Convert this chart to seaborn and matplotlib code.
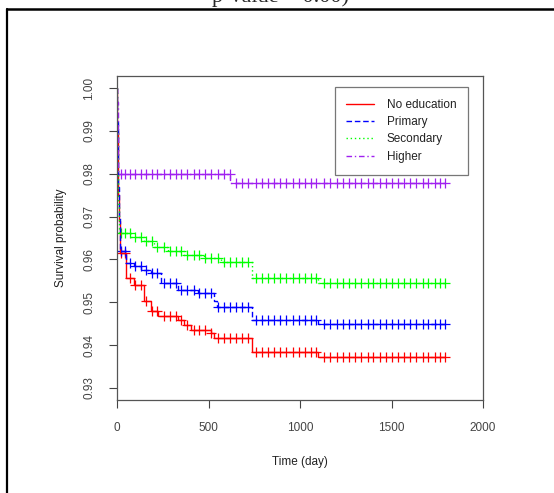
import numpy as np
import pandas as pd
import seaborn as sns
import matplotlib.pyplot as plt
from matplotlib.lines import Line2D

# Kaplan-Meier steps (time in days, survival after the step)
noedu_t = [0, 2, 4, 7, 10, 14, 49, 93, 147, 185, 223, 332, 365, 403, 512, 530, 735, 1100, 1790]
noedu_s = [1.0, 0.990, 0.982, 0.975, 0.969, 0.9615, 0.9556, 0.9541, 0.9502, 0.9479, 0.9467,
           0.9459, 0.9448, 0.9436, 0.9428, 0.9417, 0.9385, 0.9373, 0.9373]

primary_t = [0, 2, 4, 7, 10, 14, 49, 93, 131, 185, 240, 331, 440, 530, 549, 735, 1100, 1790]
primary_s = [1.0, 0.992, 0.985, 0.977, 0.970, 0.9619, 0.9591, 0.9584, 0.9576, 0.9568, 0.9545,
             0.9529, 0.9521, 0.9502, 0.9490, 0.9459, 0.9449, 0.9449]

secondary_t = [0, 2, 5, 8, 12, 76, 147, 202, 278, 365, 474, 567, 735, 1100, 1790]
secondary_s = [1.0, 0.990, 0.981, 0.973, 0.9662, 0.9653, 0.9642, 0.9630, 0.9619, 0.9611,
               0.9603, 0.9593, 0.9556, 0.9545, 0.9545]

higher_t = [0, 1, 4, 8, 620, 1790]
higher_s = [1.0, 0.9968, 0.988, 0.9800, 0.9778, 0.9778]

# censoring times (the "+" marks)
censor_t = [20, 45, 70, 100, 130, 160, 190, 220, 255, 290, 320, 350, 385, 420, 450, 480,
            515, 550, 585, 615, 650, 685, 715, 760, 790, 825, 860, 890, 925, 960, 995,
            1030, 1060, 1090, 1130, 1165, 1200, 1235, 1270, 1300, 1335, 1370, 1400, 1435,
            1470, 1500, 1535, 1570, 1600, 1635, 1670, 1700, 1735, 1765, 1790]

groups = ["No education", "Primary", "Secondary", "Higher"]
times = [noedu_t, primary_t, secondary_t, higher_t]
survs = [noedu_s, primary_s, secondary_s, higher_s]
colors = ["#FF0000", "#0000FF", "#00FF00", "#A020F0"]
styles = ["-", (0, (4, 2)), (0, (1, 2)), (0, (4, 2, 1, 2))]

sns.set_style("ticks")
plt.rcParams['font.family'] = ['Liberation Sans', 'DejaVu Sans']

fig = plt.figure(figsize=(5.54, 4.93), dpi=100)
ax = fig.add_axes([117 / 554, 1 - 400 / 493, 366 / 554, 324 / 493])

for g, t, s, c, ls in zip(groups, times, survs, colors, styles):
    df = pd.DataFrame({"time": t, "surv": s})
    sns.lineplot(data=df, x="time", y="surv", ax=ax, color=c, linestyle=ls,
                 drawstyle="steps-post", estimator=None, lw=1, label=g)
    idx = np.searchsorted(t, censor_t, side="right") - 1
    cdf = pd.DataFrame({"time": censor_t, "surv": np.asarray(s)[idx]})
    sns.scatterplot(data=cdf, x="time", y="surv", ax=ax, marker="+", color=c,
                    s=50, linewidth=0.9, legend=False)

ax.set_xlim(0, 2000)
ax.set_ylim(0.9272, 1.0028)
ax.set_xticks([0, 500, 1000, 1500, 2000])
ax.set_yticks([0.93, 0.94, 0.95, 0.96, 0.97, 0.98, 0.99, 1.00])
ax.set_yticklabels([f"{v:.2f}" for v in ax.get_yticks()], rotation=90, va="center")
ax.tick_params(length=6, width=0.8, pad=9.5, labelsize=8.5, colors="#444444")
for sp in ax.spines.values():
    sp.set_color("#555555")
    sp.set_linewidth(0.9)
    sp.set_visible(True)

ax.set_xlabel("Time (day)", fontsize=8.5, color="#222222")
ax.set_ylabel("Survival probability", fontsize=8.5, color="#222222")
ax.xaxis.set_label_coords(0.5, -0.172)
ax.yaxis.set_label_coords(-0.137, 0.5)

leg = ax.legend(loc="upper right", bbox_to_anchor=(468 / 554, 1 - 87 / 493),
                bbox_transform=fig.transFigure, fontsize=8.5, frameon=True,
                fancybox=False, handlelength=2.3, handletextpad=1.1,
                labelspacing=0.45, borderpad=1.0, borderaxespad=0)
leg.get_frame().set_edgecolor("#555555")
leg.get_frame().set_linewidth(0.9)
for txt in leg.get_texts():
    txt.set_color("#222222")

# page frame and the clipped caption above it
fig.add_artist(Line2D([7 / 554, 7 / 554], [0, 1 - 8.7 / 493], color="black", lw=1.6,
                      transform=fig.transFigure))
fig.add_artist(Line2D([7 / 554, 1], [1 - 8.7 / 493, 1 - 8.7 / 493], color="black", lw=1.8,
                      transform=fig.transFigure))
fig.text(280 / 554, 1 - 2.0 / 493, "p-value = 0.00)", family="Liberation Serif",
         fontsize=16, ha="center", va="baseline")

fig.savefig("out.png", dpi=100)
